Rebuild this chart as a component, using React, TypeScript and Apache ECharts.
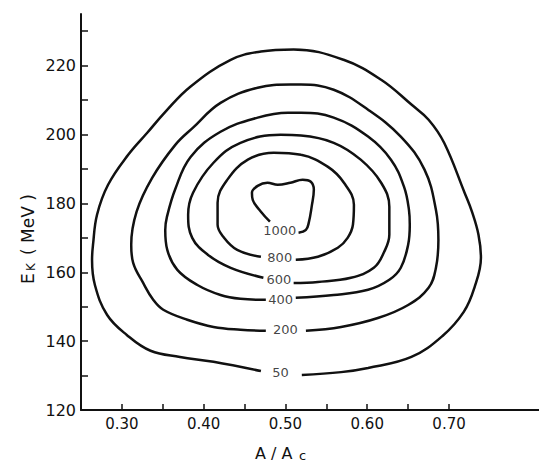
import React, { useEffect, useRef } from "react";
import * as echarts from "echarts";

// Axis ticks and labels
const xTickValues = [0.3, 0.35, 0.4, 0.45, 0.5, 0.55, 0.6, 0.65, 0.7];
const xLabelValues = [0.3, 0.4, 0.5, 0.6, 0.7];
const yTickValues = [120, 130, 140, 150, 160, 170, 180, 190, 200, 210, 220, 230];
const yLabelValues = [120, 140, 160, 180, 200, 220];

// Contour lines, [A/Ac, E_K (MeV)]
const contour50 = [
  [0.52, 130.2], [0.568, 131.0], [0.601, 132.2], [0.654, 135.4], [0.692, 141.5],
  [0.718, 148.5], [0.731, 155.5], [0.739, 164.2], [0.736, 170.9], [0.728, 177.6],
  [0.719, 183.1], [0.694, 197.6], [0.675, 204.3], [0.654, 208.7], [0.617, 215.9],
  [0.571, 221.7], [0.51, 224.7], [0.47, 224.1], [0.433, 221.7], [0.3837, 213.9],
  [0.3531, 206.6], [0.331, 200.5], [0.3077, 194.1], [0.2831, 185.4], [0.2696, 176.7],
  [0.2647, 168.0], [0.2635, 163.6], [0.267, 156.3], [0.282, 147.6], [0.306, 141.8],
  [0.335, 137.2], [0.371, 135.4], [0.412, 134.0], [0.47, 131.3],
];
const contour200 = [
  [0.525, 143.0], [0.568, 144.1], [0.613, 146.7], [0.65, 150.5], [0.675, 155.5],
  [0.684, 161.3], [0.687, 169.4], [0.684, 178.1], [0.67, 189.8], [0.641, 199.4],
  [0.601, 207.2], [0.559, 213.0], [0.519, 214.5], [0.506, 214.5], [0.466, 213.6],
  [0.4206, 209.2], [0.387, 202.0], [0.3653, 197.0], [0.337, 187.4], [0.318, 177.6],
  [0.3114, 168.0], [0.3138, 162.7], [0.326, 156.9], [0.3383, 152.0], [0.3506, 149.1],
  [0.38, 146.2], [0.412, 144.1], [0.445, 143.3], [0.476, 143.0],
];
const contour400 = [
  [0.5126, 152.6], [0.559, 153.4], [0.601, 154.9], [0.627, 157.8], [0.641, 161.3],
  [0.65, 168.0], [0.652, 173.8], [0.651, 178.1], [0.645, 184.8], [0.629, 192.7],
  [0.601, 199.4], [0.559, 204.9], [0.519, 206.3], [0.503, 206.3], [0.466, 204.9],
  [0.4206, 200.8], [0.384, 193.5], [0.3653, 184.2], [0.355, 176.0], [0.353, 172.3],
  [0.3555, 166.5], [0.3678, 160.7], [0.3923, 156.3], [0.4206, 153.4], [0.445, 152.3],
  [0.476, 152.0],
];
const contour600 = [
  [0.51, 156.9], [0.5396, 157.2], [0.58, 158.4], [0.608, 161.3], [0.6206, 165.9],
  [0.627, 170.9], [0.627, 179.0], [0.617, 186.0], [0.592, 192.7], [0.559, 197.6],
  [0.519, 199.7], [0.494, 199.9], [0.445, 197.6], [0.412, 191.8], [0.387, 183.1],
  [0.381, 176.7], [0.386, 170.0], [0.405, 165.1], [0.433, 161.3], [0.473, 158.4],
];
const contour800 = [
  [0.5126, 163.6], [0.5396, 164.5], [0.564, 167.1], [0.576, 170.0], [0.5825, 173.8],
  [0.5837, 179.6], [0.5715, 186.0], [0.552, 190.6], [0.519, 194.1], [0.4856, 194.7],
  [0.454, 192.7], [0.429, 186.9], [0.417, 180.2], [0.417, 173.8], [0.424, 170.3],
  [0.441, 166.5], [0.47, 164.5],
];
const contour1000 = [
  [0.481, 174.7], [0.47, 177.6], [0.46, 181.0], [0.459, 183.1], [0.466, 185.1],
  [0.478, 186.0], [0.4905, 185.4], [0.506, 186.0], [0.521, 186.9], [0.531, 186.3],
  [0.5347, 184.0], [0.532, 179.0], [0.5285, 174.4], [0.525, 172.3], [0.516, 171.5],
];
const contours = [contour50, contour200, contour400, contour600, contour800, contour1000];

// Contour level labels
const levelNames = ["50", "200", "400", "600", "800", "1000"];
const levelLabelX = [0.494, 0.5, 0.494, 0.492, 0.493, 0.493];
const levelLabelY = [131.0, 143.3, 152.0, 157.8, 164.2, 172.0];

const FONT = "DejaVu Sans";
const INK = "#111";

export default function App() {
  const ref = useRef<HTMLDivElement>(null);
  useEffect(() => {
    if (!ref.current) return;
    const chart = echarts.init(ref.current, undefined, { renderer: "svg" });
    const option: any = {
      animation: false,
      backgroundColor: "#fff",
      grid: { left: 81, right: 0, top: 14, bottom: 54 },
      xAxis: {
        type: "value",
        min: 0.25,
        max: 0.81,
        splitLine: { show: false },
        axisLine: { show: true, onZero: false, lineStyle: { color: INK, width: 2 } },
        axisTick: {
          show: true,
          inside: true,
          length: 6,
          customValues: xTickValues,
          lineStyle: { color: INK, width: 1.5 },
        },
        axisLabel: {
          customValues: xLabelValues,
          formatter: (v: number) => v.toFixed(2),
          color: INK,
          fontFamily: FONT,
          fontSize: 15,
          margin: 6,
        },
      },
      yAxis: {
        type: "value",
        min: 120,
        max: 235,
        splitLine: { show: false },
        axisLine: { show: true, onZero: false, lineStyle: { color: INK, width: 2 } },
        axisTick: {
          show: true,
          inside: true,
          length: 7,
          customValues: yTickValues,
          lineStyle: { color: INK, width: 1.5 },
        },
        axisLabel: {
          customValues: yLabelValues,
          formatter: (v: number) => String(v),
          color: INK,
          fontFamily: FONT,
          fontSize: 16,
          margin: 5,
        },
      },
      series: [
        ...contours.map((c) => ({
          type: "line",
          data: c,
          smooth: 0.4,
          showSymbol: false,
          symbol: "none",
          lineStyle: { color: INK, width: 2.5 },
          silent: true,
        })),
        {
          type: "scatter",
          symbolSize: 0,
          data: levelNames.map((n, i) => [levelLabelX[i], levelLabelY[i], n]),
          label: {
            show: true,
            position: "inside",
            formatter: (p: any) => p.value[2],
            color: INK,
            fontFamily: FONT,
            fontSize: 13,
          },
          silent: true,
          z: 5,
        },
      ],
      graphic: [
        {
          type: "text",
          x: 255,
          y: 445,
          style: { text: "A / A", fill: INK, font: `16px "${FONT}"` },
        },
        {
          type: "text",
          x: 299,
          y: 449,
          style: { text: "c", fill: INK, font: `13px "${FONT}"` },
        },
        {
          type: "group",
          x: 19,
          y: 284,
          rotation: Math.PI / 2,
          children: [
            { type: "text", x: 0, y: 0, style: { text: "E", fill: INK, font: `17px "${FONT}"` } },
            { type: "text", x: 13, y: 6, style: { text: "K", fill: INK, font: `12px "${FONT}"` } },
            { type: "text", x: 29, y: 0, style: { text: "( MeV )", fill: INK, font: `17px "${FONT}"` } },
          ],
        },
      ],
    };
    chart.setOption(option);
    return () => chart.dispose();
  }, []);
  return (
    <div
      ref={ref}
      style={{ position: "fixed", left: 0, top: 0, width: 539, height: 464, background: "#fff" }}
    />
  );
}
